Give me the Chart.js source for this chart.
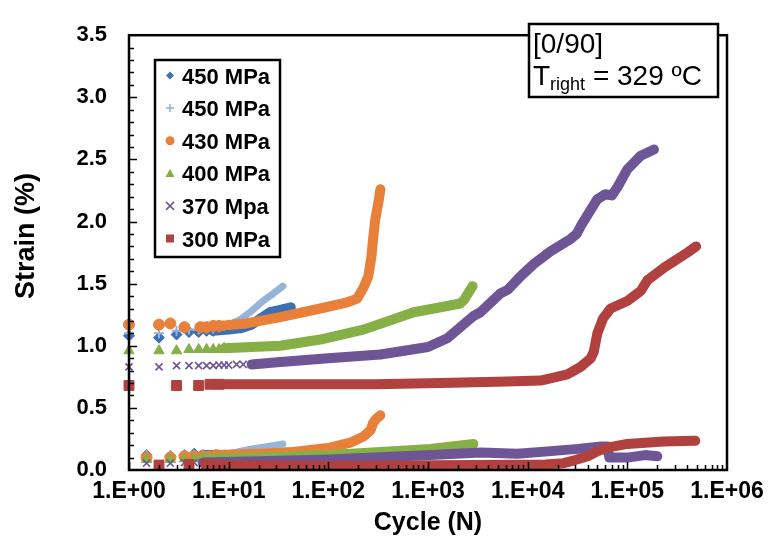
<!DOCTYPE html>
<html>
<head>
<meta charset="utf-8">
<script src="https://cdn.jsdelivr.net/npm/chart.js"></script>
<style>
  html, body { margin: 0; padding: 0; background: #fff; }
  #wrap { width: 773px; height: 546px; }
</style>
</head>
<body>
<div id="wrap"><canvas id="c" width="773" height="546"></canvas></div>
<script>
// --- data: [cycle, strain %] ---
// mk* = separate early markers, ln* = dense part drawn as a thick band
const legendLabels = ['450 MPa', '450 MPa', '430 MPa', '400 MPa', '370 Mpa', '300 MPa'];
const xTickExps = [0, 1, 2, 3, 4, 5, 6];
const yTicks = [0, 0.5, 1, 1.5, 2, 2.5, 3, 3.5];

// 450 MPa (diamonds)
const mkUp450a = [[1,1.08],[2,1.065],[3,1.09],[4,1.11],[5,1.11],[6,1.12],[7,1.12]];
const lnUp450a = [[7,1.12],[10,1.13],[13,1.14],[17,1.17],[21,1.22],[26,1.27],[33,1.29],[42,1.31]];
const mkLo450a = [[1.5,0.12],[2.6,0.11],[3.6,0.12],[4.5,0.13],[5.5,0.12]];
const lnLo450a = [[5.5,0.12],[10,0.12],[20,0.13],[40,0.14]];

// 450 MPa (plus)
const mkUp450b = [[1,1.1],[2,1.1],[3,1.12],[4,1.13],[5,1.13],[6,1.14],[7,1.14],[8,1.15],[9,1.16],[10,1.17]];
const lnUp450b = [[10,1.17],[13,1.21],[17,1.28],[22,1.36],[28,1.42],[35,1.48]];
const mkLo450b = [[1.5,0.12],[2.6,0.12],[3.6,0.12],[4.5,0.12],[5.5,0.12]];
const lnLo450b = [[5.5,0.12],[10,0.13],[17,0.17],[25,0.19],[35,0.21]];

// 430 MPa
const mkUp430 = [[1,1.17],[2,1.17],[2.6,1.18],[3.6,1.15],[5.2,1.15],[6,1.15],[7,1.16],[8,1.16]];
const lnUp430 = [[8,1.16],[15,1.18],[33,1.23],[83,1.30],[155,1.35],[195,1.38],[226,1.47],[252,1.56],[270,1.71],[282,1.87],[296,2.02],[319,2.16],[333,2.26]];
const mkLo430 = [[1.5,0.10],[2.6,0.10],[3.6,0.11],[4.5,0.11],[5.5,0.11],[6.5,0.11],[7.5,0.12]];
const lnLo430 = [[7.5,0.12],[20,0.13],[38,0.14],[104,0.18],[166,0.22],[225,0.27],[265,0.32],[282,0.38],[300,0.41],[333,0.44]];

// 400 MPa
const mkUp400 = [[1,0.96],[2,0.96],[3,0.96],[4,0.97],[5,0.97],[6,0.97],[7,0.97],[8,0.97],[9,0.98]];
const lnUp400 = [[9,0.98],[33,1.0],[83,1.05],[225,1.13],[720,1.27],[1340,1.31],[2100,1.34],[2300,1.37],[2800,1.48]];
const mkLo400 = [[1.5,0.085],[2.6,0.085],[3.6,0.09],[4.5,0.09],[5.5,0.09]];
const lnLo400 = [[5.5,0.09],[20,0.1],[104,0.12],[1060,0.17],[2860,0.21]];

// 370 Mpa
const mkUp370 = [[1,0.83],[2,0.83],[3,0.84],[4,0.84],[5,0.84],[6,0.84],[7,0.84],[8,0.845],[9,0.845],[10,0.845],[12,0.85],[14,0.85],[17,0.85]];
const lnUp370 = [[17,0.85],[33,0.87],[100,0.9],[333,0.93],[1000,0.99],[1560,1.06],[2860,1.24],[3370,1.27],[5300,1.42],[6300,1.45],[8500,1.56],[11600,1.66],[17000,1.76],[27000,1.86],[31000,1.9],[35000,1.98],[50000,2.18],[60000,2.22],[70000,2.21],[80000,2.28],[100000,2.42],[136000,2.53],[185000,2.58]];
const mkLo370 = [[1.5,0.055],[2.6,0.055],[3.6,0.06],[4.5,0.06],[5.5,0.06]];
const lnLo370 = [[5.5,0.06],[20,0.07],[104,0.085],[1060,0.12],[3400,0.14],[7900,0.13],[16000,0.15],[32000,0.17],[55000,0.19],[63000,0.19],[66000,0.10],[100000,0.10],[150000,0.12],[200000,0.11]];

// 300 MPa
const mkUp300 = [[1,0.68],[3,0.68],[5,0.68],[6.5,0.69],[8,0.69]];
const lnUp300 = [[8,0.69],[30,0.69],[300,0.69],[1320,0.70],[5000,0.71],[13500,0.72],[25000,0.77],[34000,0.83],[43000,0.90],[46000,0.95],[50000,1.1],[57000,1.22],[68000,1.30],[100000,1.36],[136000,1.44],[160000,1.53],[235000,1.63],[400000,1.75],[490000,1.80]];
const mkLo300 = [[2,0.04],[4,0.045],[6,0.045],[7.5,0.04]];
const lnLo300 = [[7.5,0.04],[100,0.035],[3400,0.04],[15000,0.045],[23000,0.055],[30000,0.08],[40000,0.11],[50000,0.15],[63000,0.18],[100000,0.21],[230000,0.23],[480000,0.235]];

const FONT = "'Liberation Sans', Arial, sans-serif";

const series = [
  { color: '#3d70b2', style: 'rectRot', r: 5.5, lw: 10, pw: 1, parts: [mkUp450a, lnUp450a, mkLo450a, lnLo450a] },
  { color: '#96b4da', style: 'cross', r: 5, lw: 7, pw: 2, parts: [mkUp450b, lnUp450b, mkLo450b, lnLo450b] },
  { color: '#e8803a', style: 'circle', r: 5.5, lw: 10, pw: 1, parts: [mkUp430, lnUp430, mkLo430, lnLo430] },
  { color: '#86b046', style: 'triangle', r: 6, lw: 10, pw: 1, parts: [mkUp400, lnUp400, mkLo400, lnLo400] },
  { color: '#6e5595', style: 'crossRot', r: 5, lw: 10, pw: 1.6, parts: [mkUp370, lnUp370, mkLo370, lnLo370] },
  { color: '#b0413e', style: 'rect', r: 7, lw: 10, pw: 1, parts: [mkUp300, lnUp300, mkLo300, lnLo300] }
];

const datasets = [];
series.forEach((s, i) => {
  s.parts.forEach((pts, k) => {
    const isLine = k % 2 === 1;
    datasets.push({
      data: pts.map(p => ({ x: p[0], y: p[1] })),
      showLine: isLine,
      borderColor: s.color,
      backgroundColor: s.color,
      borderWidth: isLine ? s.lw : s.pw,
      borderCapStyle: 'round',
      borderJoinStyle: 'round',
      pointRadius: isLine ? 0 : s.r,
      pointHoverRadius: isLine ? 0 : s.r,
      pointStyle: s.style,
      pointBorderWidth: s.pw,
      order: (6 - i) * 2 - (isLine ? 0 : 1),
      clip: false
    });
  });
});

function drawMarker(ctx, style, x, y, r, color) {
  ctx.save();
  ctx.fillStyle = color; ctx.strokeStyle = color;
  ctx.beginPath();
  if (style === 'rectRot') {
    ctx.moveTo(x, y - r); ctx.lineTo(x + r, y); ctx.lineTo(x, y + r); ctx.lineTo(x - r, y); ctx.closePath(); ctx.fill();
  } else if (style === 'cross') {
    ctx.lineWidth = 1.6;
    ctx.moveTo(x - r, y); ctx.lineTo(x + r, y); ctx.moveTo(x, y - r); ctx.lineTo(x, y + r); ctx.stroke();
  } else if (style === 'circle') {
    ctx.arc(x, y, r, 0, Math.PI * 2); ctx.fill();
  } else if (style === 'triangle') {
    ctx.moveTo(x, y - r); ctx.lineTo(x + r, y + r * 0.8); ctx.lineTo(x - r, y + r * 0.8); ctx.closePath(); ctx.fill();
  } else if (style === 'crossRot') {
    ctx.lineWidth = 1.5;
    ctx.moveTo(x - r, y - r); ctx.lineTo(x + r, y + r); ctx.moveTo(x + r, y - r); ctx.lineTo(x - r, y + r); ctx.stroke();
  } else {
    ctx.fillRect(x - r, y - r, 2 * r, 2 * r);
  }
  ctx.restore();
}

const decorations = {
  id: 'decorations',
  afterDraw(chart) {
    const { ctx, chartArea: a, scales: { x, y } } = chart;
    ctx.save();
    ctx.strokeStyle = '#000';
    ctx.lineWidth = 1.5;
    ctx.beginPath();
    // inward ticks on x (log minor + decades)
    for (let e = 0; e < 6; e++) {
      for (let m = 1; m < 10; m++) {
        const px = Math.round(x.getPixelForValue(m * Math.pow(10, e))) + 0.5;
        const len = m === 1 ? 8 : 5;
        ctx.moveTo(px, a.bottom); ctx.lineTo(px, a.bottom - len);
      }
    }
    // inward ticks on y every 0.1
    for (let i = 1; i < 35; i++) {
      const py = Math.round(y.getPixelForValue(i / 10)) + 0.5;
      const len = i % 5 === 0 ? 8 : 5;
      ctx.moveTo(a.left, py); ctx.lineTo(a.left + len, py);
    }
    ctx.stroke();

    // plot frame
    ctx.lineWidth = 2.5;
    ctx.strokeRect(a.left, a.top, a.right - a.left, a.bottom - a.top);

    // y axis title
    ctx.save();
    ctx.translate(27, 236);
    ctx.rotate(-Math.PI / 2);
    ctx.fillStyle = '#000';
    ctx.font = 'bold 27px ' + FONT;
    ctx.textAlign = 'center';
    ctx.textBaseline = 'middle';
    ctx.fillText('Strain (%)', 0, 0);
    ctx.restore();

    // legend box
    ctx.fillStyle = '#fff';
    ctx.fillRect(155, 60, 125, 197);
    ctx.strokeRect(155, 60, 125, 197);
    ctx.fillStyle = '#000';
    ctx.font = 'bold 22px ' + FONT;
    ctx.textBaseline = 'alphabetic';
    ctx.textAlign = 'left';
    const legR = [4, 4, 4.5, 4.5, 4, 4];
    legendLabels.forEach((lab, i) => {
      const cy = 75.5 + i * 32.6;
      drawMarker(ctx, series[i].style, 170, cy, legR[i], series[i].color);
      ctx.fillStyle = '#000';
      ctx.fillText(lab, 182, cy + 8);
    });

    // annotation box
    ctx.fillStyle = '#fff';
    ctx.fillRect(529, 24, 189, 73);
    ctx.strokeRect(529, 24, 189, 73);
    ctx.fillStyle = '#000';
    ctx.font = '28px ' + FONT;
    ctx.fillText('[0/90]', 533, 53);
    let tx = 533;
    ctx.fillText('T', tx, 85);
    tx += ctx.measureText('T').width;
    ctx.font = '18px ' + FONT;
    ctx.fillText('right', tx, 90);
    tx += ctx.measureText('right').width;
    ctx.font = '28px ' + FONT;
    ctx.fillText(' = 329 ºC', tx, 85);
    ctx.restore();
  }
};

new Chart(document.getElementById('c'), {
  type: 'scatter',
  data: { datasets },
  options: {
    responsive: false,
    animation: false,
    events: [],
    layout: { padding: { left: 0, top: 20, right: 46, bottom: 0 } },
    plugins: { legend: { display: false }, tooltip: { enabled: false } },
    scales: {
      x: {
        type: 'logarithmic',
        min: 1,
        max: 1e6,
        grid: { display: false, drawTicks: false },
        border: { display: false },
        afterFit: s => { s.height = 76; },
        afterBuildTicks: s => {
          s.ticks = xTickExps.map(e => ({ value: Math.pow(10, e) }));
        },
        ticks: {
          autoSkip: false,
          maxRotation: 0,
          padding: 8,
          color: '#000',
          font: { family: FONT, size: 23, weight: 'bold' },
          callback: v => '1.E+' + String(Math.round(Math.log10(v))).padStart(2, '0')
        },
        title: {
          display: true,
          text: 'Cycle (N)',
          color: '#000',
          font: { family: FONT, size: 25, weight: 'bold' },
          padding: { top: 0, bottom: 8 }
        }
      },
      y: {
        min: 0,
        max: 3.5,
        grid: { display: false, drawTicks: false },
        border: { display: false },
        afterFit: s => { s.width = 129; },
        afterBuildTicks: s => {
          s.ticks = yTicks.map(v => ({ value: v }));
        },
        ticks: {
          padding: 22,
          color: '#000',
          font: { family: FONT, size: 22, weight: 'bold' },
          callback: v => Number(v).toFixed(1)
        },
        title: { display: false }
      }
    }
  },
  plugins: [decorations]
});
</script>
</body>
</html>
